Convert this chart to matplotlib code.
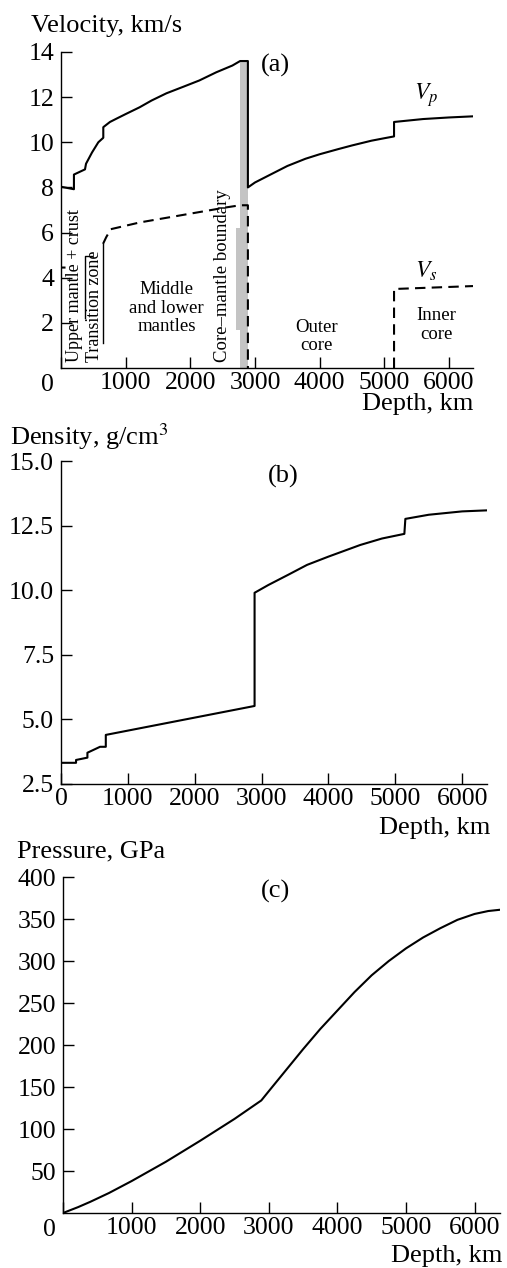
import numpy as np
import matplotlib
matplotlib.use("Agg")
import matplotlib.pyplot as plt
from matplotlib.transforms import offset_copy

plt.rcParams['font.family'] = ['Liberation Serif', 'DejaVu Serif']
plt.rcParams['mathtext.fontset'] = 'stix'

# P-wave velocity, km/s
vp_depth = [0, 200, 200, 371, 387, 480, 577, 654, 654, 757, 860, 1000, 1215, 1400, 1630,
            1900, 2140, 2400, 2650, 2770, 2890, 2890, 3000, 3260, 3500, 3780, 4000, 4290,
            4500, 4800, 5000, 5150, 5150, 5600, 6000, 6371]
vp_value = [8.03, 7.92, 8.57, 8.80, 9.05, 9.55, 10.0, 10.2, 10.67, 10.9, 11.05, 11.25, 11.55,
            11.85, 12.17, 12.47, 12.74, 13.1, 13.4, 13.6, 13.6, 8.0, 8.22, 8.6, 8.95, 9.27,
            9.47, 9.7, 9.86, 10.07, 10.18, 10.26, 10.9, 11.03, 11.1, 11.15]

# S-wave velocity, km/s (nan = gap)
vs_depth = [0, 70, np.nan, 650, 700, 770, 1220, 2565, 2770, 2890, 2890, np.nan, 5150, 5150, 6371]
vs_value = [4.45, 4.45, np.nan, 5.5, 5.8, 6.15, 6.45, 7.12, 7.21, 7.21, 0.0, np.nan, 0.0, 3.5, 3.63]

# density, g/cm3
rho_depth = [0, 225, 225, 395, 395, 584, 670, 670, 2895, 2895, 3100, 3400, 3680, 4000,
             4475, 4800, 5135, 5150, 5500, 6000, 6371]
rho_value = [3.32, 3.32, 3.43, 3.52, 3.71, 3.94, 3.94, 4.40, 5.52, 9.90, 10.2, 10.6, 10.98,
             11.3, 11.75, 12.0, 12.18, 12.76, 12.92, 13.05, 13.09]

# pressure, GPa
p_depth = [0, 220, 400, 670, 1000, 1500, 2000, 2500, 2891, 3000, 3250, 3500, 3750, 4000,
           4250, 4500, 4750, 5000, 5250, 5500, 5750, 6000, 6200, 6371]
p_value = [0, 7, 13.4, 23.8, 38.0, 61, 86, 112, 134, 145, 170, 195, 219, 241,
           263, 283, 300, 315, 328, 339, 349, 356, 359.5, 361]

W, H = 507, 1268
fig = plt.figure(figsize=(W / 100, H / 100), dpi=100)

FS_TICK = 18.5
FS_LAB = 19


def px_axes(left, right, top, bottom):
    return fig.add_axes([left / W, 1 - bottom / H, (right - left) / W, (bottom - top) / H])


def style(ax):
    for s in ['top', 'right']:
        ax.spines[s].set_visible(False)
    for s in ['left', 'bottom']:
        ax.spines[s].set_linewidth(1.0)
    ax.tick_params(direction='in', length=8, width=1.0, labelsize=FS_TICK)
    ax.tick_params(axis='y', pad=5)
    ax.tick_params(axis='x', pad=3)


def corner_zero(ax):
    tr = offset_copy(ax.transAxes, fig=fig, x=-7, y=-17, units='dots')
    ax.text(0, 0, "0", transform=tr, ha='right', va='center', fontsize=FS_TICK)


lw = 1.5
xticks = [0, 1000, 2000, 3000, 4000, 5000, 6000]

# ---- (a) velocity
ax1 = px_axes(61, 473, 52, 368)
style(ax1)
ax1.set_xlim(0, 6371)
ax1.set_ylim(0, 14)
ax1.fill_between([2770, 2890], 0, 13.6, color='#c4c4c4', lw=0, zorder=1)
ax1.fill_between([2710, 2770], 1.7, 6.2, color='#c4c4c4', lw=0, zorder=1)
ax1.plot(vp_depth, vp_value, color='black', lw=lw, zorder=3)
ax1.plot(vs_depth, vs_value, color='black', lw=lw, ls=(0, (5, 3)), zorder=3)
ax1.plot([370, 370, 480], [2.2, 4.95, 4.95], color='black', lw=1.0)
ax1.plot([650, 650], [1.1, 5.5], color='black', lw=1.0)
ax1.set_xticks(xticks)
ax1.set_xticklabels([''] + [str(t) for t in xticks[1:]])
ax1.set_yticks(range(2, 15, 2))
corner_zero(ax1)
ax1.text(3320, 13.4, "(a)", fontsize=FS_LAB, ha='center', va='center')
ax1.text(5650, 12.1, "$V_p$", fontsize=17, ha='center', va='center')
ax1.text(5650, 4.3, "$V_s$", fontsize=17, ha='center', va='center')
ax1.text(1630, 2.65, "Middle\nand lower\nmantles", fontsize=13.5, ha='center', va='center',
         linespacing=1.1)
ax1.text(3950, 1.4, "Outer\ncore", fontsize=13.5, ha='center', va='center', linespacing=1.1)
ax1.text(5800, 1.9, "Inner\ncore", fontsize=13.5, ha='center', va='center', linespacing=1.1)
ax1.text(2490, 0.25, "Core\u2013mantle boundary", fontsize=13.5, rotation=90,
         ha='center', va='bottom')
ax1.text(215, 0.25, "Upper mantle + crust", fontsize=13, rotation=90, ha='center', va='bottom')
ax1.text(515, 0.25, "Transition zone", fontsize=13, rotation=90, ha='center', va='bottom')
fig.text(31 / W, 1 - 26 / H, "Velocity, km/s", fontsize=FS_LAB, ha='left', va='center')
fig.text(473 / W, 1 - 404 / H, "Depth, km", fontsize=FS_LAB, ha='right', va='center')

# ---- (b) density
ax2 = px_axes(61, 487, 461, 784)
style(ax2)
ax2.set_xlim(0, 6371)
ax2.set_ylim(2.5, 15.0)
ax2.plot(rho_depth, rho_value, color='black', lw=lw)
ax2.set_xticks(xticks)
ax2.set_yticks([2.5, 5.0, 7.5, 10.0, 12.5, 15.0])
ax2.set_yticklabels(["2.5", "5.0", "7.5", "10.0", "12.5", "15.0"])
ax2.text(3320, 14.4, "(b)", fontsize=FS_LAB, ha='center', va='center')
fig.text(10 / W, 1 - 437 / H, "Density, g/cm$^3$", fontsize=FS_LAB, ha='left', va='center')
fig.text(490 / W, 1 - 828 / H, "Depth, km", fontsize=FS_LAB, ha='right', va='center')

# ---- (c) pressure
ax3 = px_axes(63, 500, 877, 1213)
style(ax3)
ax3.set_xlim(0, 6371)
ax3.set_ylim(0, 400)
ax3.plot(p_depth, p_value, color='black', lw=lw)
ax3.set_xticks(xticks)
ax3.set_xticklabels([''] + [str(t) for t in xticks[1:]])
ax3.set_yticks(range(50, 401, 50))
corner_zero(ax3)
ax3.text(3100, 383, "(c)", fontsize=FS_LAB, ha='center', va='center')
fig.text(17 / W, 1 - 851 / H, "Pressure, GPa", fontsize=FS_LAB, ha='left', va='center')
fig.text(502 / W, 1 - 1256 / H, "Depth, km", fontsize=FS_LAB, ha='right', va='center')

fig.savefig("out.png", dpi=100)
